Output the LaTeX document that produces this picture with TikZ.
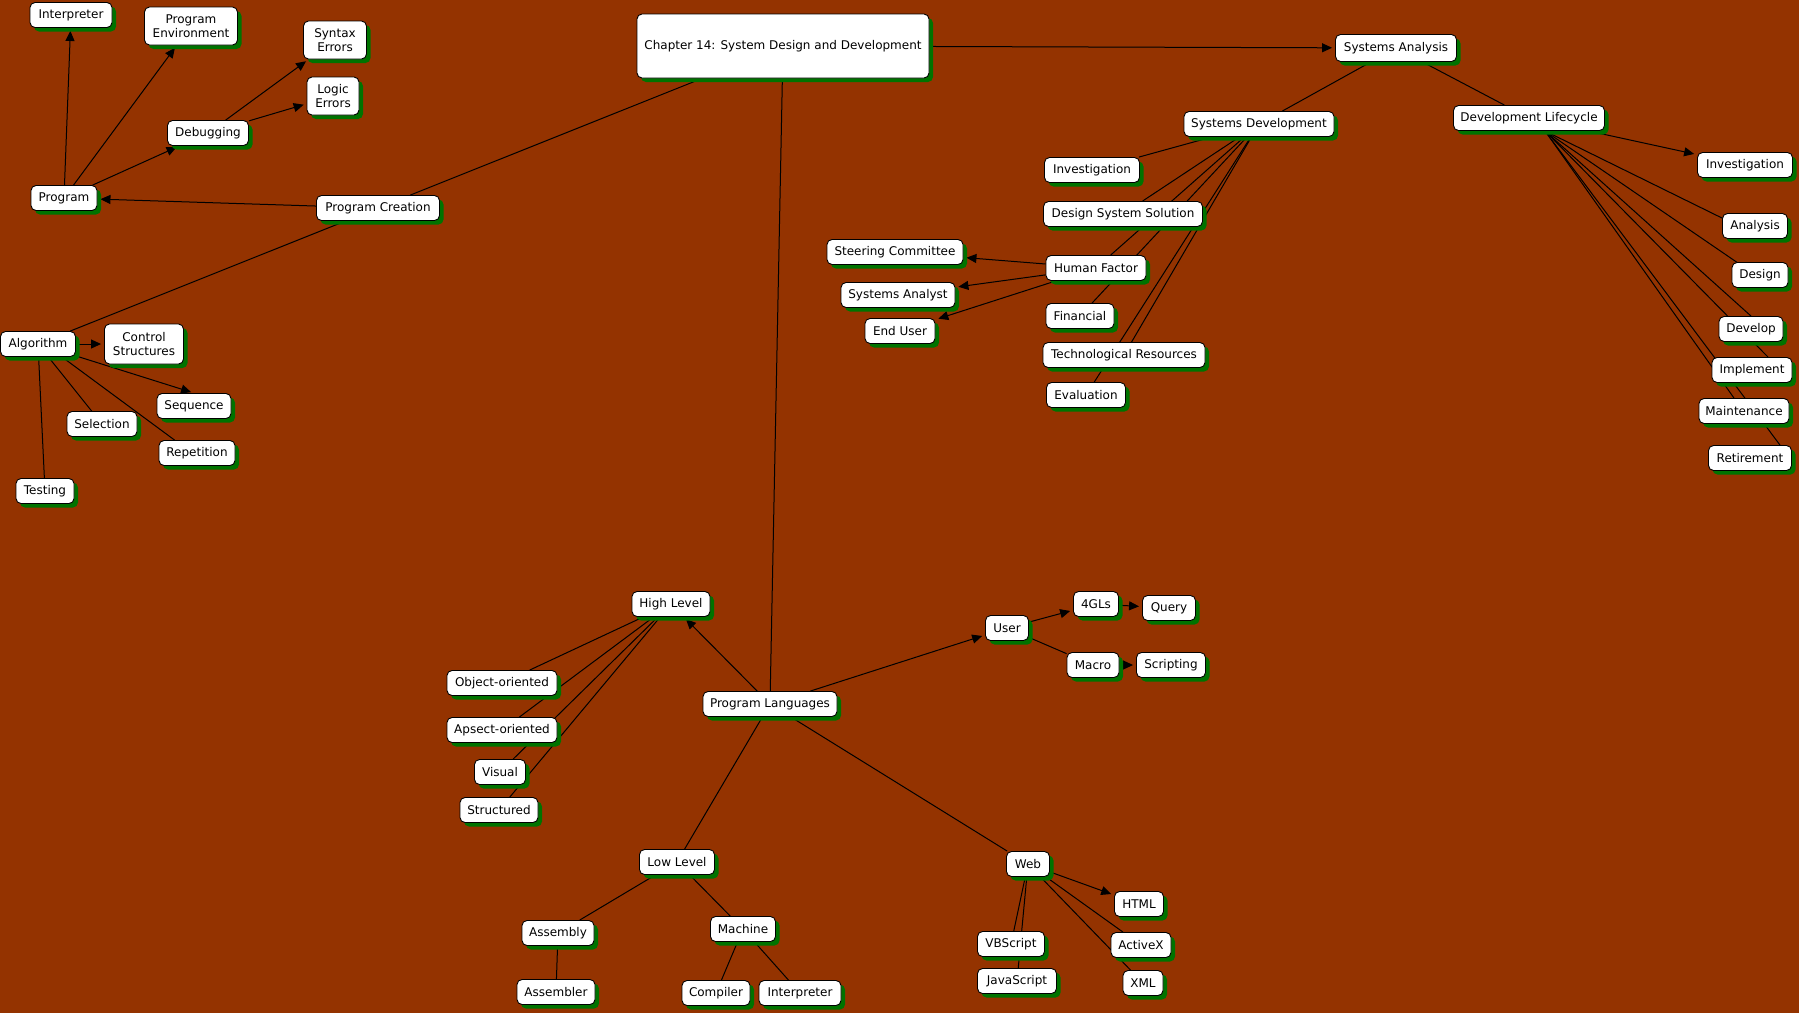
\documentclass[tikz,border=0pt]{standalone}
\usepackage{fontspec}
\setmainfont{DejaVu Sans}
\usetikzlibrary{shadows,arrows.meta}
\definecolor{bgc}{RGB}{148,51,0}
\definecolor{shc}{RGB}{0,115,0}
\pgfdeclarelayer{bg}
\pgfsetlayers{bg,main}
\tikzset{
 cn/.style={draw=black, fill=white, rounded corners=5pt, line width=0.9pt,
   font=\fontsize{12}{14}\selectfont, align=center, inner xsep=5pt, inner ysep=3pt,
   minimum height=25pt,
   drop shadow={shadow xshift=4pt, shadow yshift=-4pt, fill=shc, opacity=1}},
 ln/.style={draw=black, line width=1pt},
 ar/.style={ln, -{Triangle[length=10pt,width=9pt]}, shorten >=3pt},
}
\begin{document}
\begin{tikzpicture}[x=1pt,y=-1pt]
\useasboundingbox (0,0) rectangle (1799,1013);
% nodes
\node[cn, minimum width=82pt] (interp1) at (71,15) {Interpreter};
\node[cn, minimum width=93pt, minimum height=38pt] (progenv) at (191,26) {Program\\Environment};
\node[cn, minimum width=63pt, minimum height=38pt] (syntax) at (335,40) {Syntax\\Errors};
\node[cn, minimum width=52pt, minimum height=38pt] (logic) at (333,96) {Logic\\Errors};
\node[cn, minimum width=81pt] (debug) at (208,133) {Debugging};
\node[cn, minimum width=66pt] (program) at (64,198) {Program};
\node[cn, minimum width=123pt] (pcreate) at (378,208) {Program Creation};
\node[cn, minimum width=292pt, minimum height=64pt] (chapter) at (783,46) {Chapter 14: System Design and Development};
\node[cn, minimum width=121pt, minimum height=27pt] (sysan) at (1396,48) {Systems Analysis};
\node[cn, minimum width=150pt] (sysdev) at (1259,124) {Systems Development};
\node[cn, minimum width=95pt] (inv1) at (1092,170) {Investigation};
\node[cn, minimum width=159pt] (dss) at (1123,214) {Design System Solution};
\node[cn, minimum width=100pt] (human) at (1096,268) {Human Factor};
\node[cn, minimum width=68pt] (fin) at (1080,316) {Financial};
\node[cn, minimum width=162pt] (tech) at (1124,355) {Technological Resources};
\node[cn, minimum width=79pt] (eval) at (1086,395) {Evaluation};
\node[cn, minimum width=136pt] (steer) at (895,252) {Steering Committee};
\node[cn, minimum width=114pt] (sysanl) at (898,295) {Systems Analyst};
\node[cn, minimum width=70pt] (enduser) at (900,331) {End User};
\node[cn, minimum width=151pt] (devlc) at (1529,118) {Development Lifecycle};
\node[cn, minimum width=95pt] (inv2) at (1745,165) {Investigation};
\node[cn, minimum width=65pt] (analysis) at (1755,226) {Analysis};
\node[cn, minimum width=56pt] (design) at (1760,275) {Design};
\node[cn, minimum width=64pt] (develop) at (1751,329) {Develop};
\node[cn, minimum width=80pt] (implement) at (1752,370) {Implement};
\node[cn, minimum width=90pt] (maint) at (1744,411) {Maintenance};
\node[cn, minimum width=83pt] (retire) at (1750,458) {Retirement};
\node[cn, minimum width=75pt] (algo) at (38,344) {Algorithm};
\node[cn, minimum width=79pt, minimum height=40pt] (control) at (144,344) {Control\\Structures};
\node[cn, minimum width=74pt] (sequence) at (194,406) {Sequence};
\node[cn, minimum width=70pt] (selection) at (102,424) {Selection};
\node[cn, minimum width=76pt] (repetition) at (197,453) {Repetition};
\node[cn, minimum width=58pt] (testing) at (45,491) {Testing};
\node[cn, minimum width=78pt] (high) at (671,604) {High Level};
\node[cn, minimum width=110pt] (oop) at (502,683) {Object-oriented};
\node[cn, minimum width=110pt] (aop) at (502,730) {Apsect-oriented};
\node[cn, minimum width=51pt] (visual) at (500,772) {Visual};
\node[cn, minimum width=78pt] (structured) at (499,810) {Structured};
\node[cn, minimum width=134pt] (proglang) at (770,704) {Program Languages};
\node[cn, minimum width=75pt] (low) at (677,862) {Low Level};
\node[cn, minimum width=72pt] (assembly) at (558,933) {Assembly};
\node[cn, minimum width=78pt] (assembler) at (556,992) {Assembler};
\node[cn, minimum width=65pt] (machine) at (743,929) {Machine};
\node[cn, minimum width=68pt] (compiler) at (716,993) {Compiler};
\node[cn, minimum width=82pt] (interp2) at (800,993) {Interpreter};
\node[cn, minimum width=43pt] (user) at (1007,628) {User};
\node[cn, minimum width=45pt] (fourgl) at (1096,604) {4GLs};
\node[cn, minimum width=53pt] (query) at (1169,608) {Query};
\node[cn, minimum width=52pt] (macro) at (1093,665) {Macro};
\node[cn, minimum width=69pt] (scripting) at (1171,665) {Scripting};
\node[cn, minimum width=43pt] (web) at (1028,864) {Web};
\node[cn, minimum width=49pt] (html) at (1139,904) {HTML};
\node[cn, minimum width=60pt] (activex) at (1141,945) {ActiveX};
\node[cn, minimum width=40pt] (xml) at (1143,983) {XML};
\node[cn, minimum width=67pt] (vbs) at (1011,944) {VBScript};
\node[cn, minimum width=79pt] (js) at (1017,981) {JavaScript};
\coordinate (dlfoot) at ([xshift=16pt]devlc.south);
% background and connectors
\begin{pgfonlayer}{bg}
\fill[bgc] (0,0) rectangle (1799,1013);
\draw[ar] (chapter) -- (sysan);
\draw[ln] (chapter) -- (pcreate);
\draw[ln] (chapter) -- (proglang);
\draw[ar] (pcreate) -- (program);
\draw[ln] (pcreate) -- (algo);
\draw[ar] (program) -- (interp1);
\draw[ar] (program) -- (progenv);
\draw[ar] (program) -- (debug);
\draw[ar] (debug) -- (syntax);
\draw[ar] (debug) -- (logic);
\draw[ar] (algo) -- (control);
\draw[ar] (algo) -- (sequence.north);
\draw[ln] (algo) -- (selection);
\draw[ln] ([xshift=24pt]algo.south) -- ([xshift=16pt]repetition.north west);
\draw[ln] (algo) -- (testing);
\draw[ln] (sysan) -- (sysdev);
\draw[ln] (sysan) -- (devlc);
\draw[ln] (sysdev) -- (inv1);
\draw[ln] (sysdev) -- (dss);
\draw[ln] (sysdev) -- (human);
\draw[ln] (sysdev) -- (fin);
\draw[ln] (sysdev) -- (tech);
\draw[ln] (sysdev) -- (eval);
\draw[ar] (human) -- (steer);
\draw[ar] (human) -- (sysanl);
\draw[ar] (human) -- (enduser);
\draw[ar] (devlc) -- (inv2);
\draw[ln] (dlfoot) -- ([yshift=-5pt]analysis.north west);
\draw[ln] (dlfoot) -- ([xshift=5pt]design.north west);
\draw[ln] (dlfoot) -- (develop.north);
\draw[ln] (dlfoot) -- ([xshift=16pt]implement.north);
\draw[ln] (dlfoot) -- ([xshift=-10pt]maint.north);
\draw[ln] (dlfoot) -- ([xshift=30pt]retire.north);
\draw[ar] (proglang) -- (high);
\draw[ar] (proglang) -- (user);
\draw[ln] (proglang) -- (low);
\draw[ln] (proglang) -- (web);
\draw[ln] (high) -- (oop);
\draw[ln] (high) -- (aop);
\draw[ln] (high) -- (visual);
\draw[ln] (high) -- (structured);
\draw[ar] (user) -- (fourgl);
\draw[ln] (user) -- (macro);
\draw[ar] (fourgl) -- (query);
\draw[ar] (macro) -- (scripting);
\draw[ln] (low) -- (assembly);
\draw[ln] (low) -- (machine);
\draw[ln] (assembly) -- (assembler);
\draw[ln] (machine) -- (compiler);
\draw[ln] (machine) -- (interp2);
\draw[ar] (web) -- (html);
\draw[ln] (web) -- (activex);
\draw[ln] (web) -- (xml);
\draw[ln] (web) -- (vbs);
\draw[ln] (web) -- (js);
\end{pgfonlayer}
\end{tikzpicture}
\end{document}
